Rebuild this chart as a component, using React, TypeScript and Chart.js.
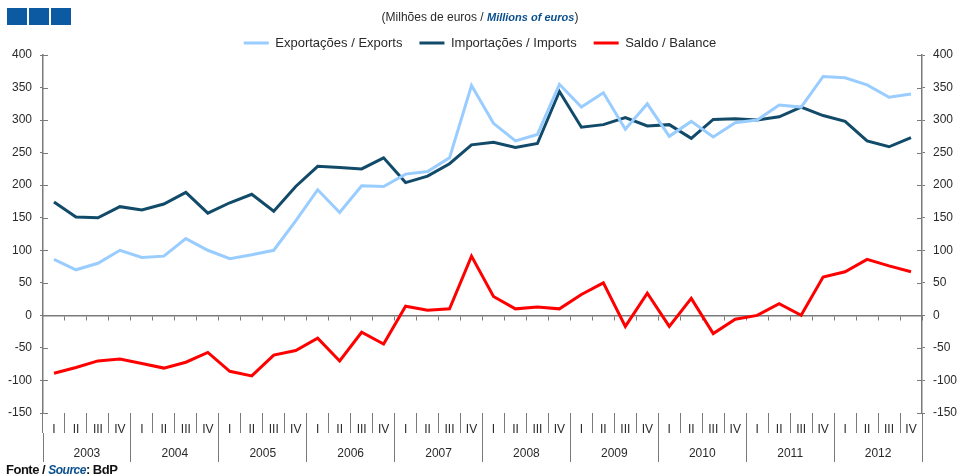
import React, { useEffect, useRef } from 'react';
import { Chart, registerables } from 'chart.js';

Chart.register(...registerables);

const years = ['2003', '2004', '2005', '2006', '2007', '2008', '2009', '2010', '2011', '2012'];
const quarterNames = ['I', 'II', 'III', 'IV'];
const quarterLabels = years.flatMap(() => quarterNames);

const exportsData = [86, 70, 80, 100, 89, 91, 118, 100, 87, 93, 100, 145, 193, 158, 199, 198, 217, 221, 242, 353, 295, 268, 278, 355, 320, 342, 286, 325, 275, 298, 274, 296, 300, 323, 320, 367, 365, 354, 335, 340];
const importsData = [174, 151, 150, 167, 162, 171, 189, 157, 173, 186, 160, 198, 229, 227, 225, 242, 204, 214, 233, 262, 266, 258, 264, 344, 289, 293, 304, 291, 293, 272, 301, 302, 300, 305, 320, 307, 298, 268, 259, 273];
const balanceData = [-89, -80, -70, -67, -74, -81, -72, -57, -86, -93, -61, -54, -35, -70, -26, -44, 14, 8, 10, 91, 29, 10, 13, 10, 32, 50, -17, 34, -17, 26, -28, -6, 0, 18, 0, 59, 67, 86, 76, 67];

const seriesLabels = ['Exportações / Exports', 'Importações / Imports', 'Saldo / Balance'];
const yMin = -150;
const yMax = 400;
const yStep = 50;

const FONT = "'Liberation Sans', Arial, sans-serif";
const AXIS = '#7a7a7a';
const TEXT = '#2a2a2a';

const innerTicks = {
  id: 'innerTicks',
  afterDraw(chart: any) {
    const ctx = chart.ctx;
    ['y', 'y2'].forEach((id) => {
      const s = chart.scales[id];
      if (!s) return;
      const left = id === 'y';
      const x = left ? s.right : s.left;
      const dir = left ? 1 : -1;
      ctx.save();
      ctx.strokeStyle = AXIS;
      ctx.lineWidth = 1;
      s.ticks.forEach((t: any) => {
        const py = Math.round(s.getPixelForValue(t.value)) + 0.5;
        ctx.beginPath();
        ctx.moveTo(x, py);
        ctx.lineTo(x + dir * 5, py);
        ctx.stroke();
      });
      ctx.restore();
    });
  },
};

export default function App() {
  const ref = useRef<HTMLCanvasElement>(null);

  useEffect(() => {
    document.body.style.margin = '0';
    const canvas = ref.current;
    if (!canvas) return;
    const tickFont = { family: FONT, size: 12 };
    const chart = new Chart(canvas, {
      type: 'line',
      data: {
        labels: quarterLabels,
        datasets: [
          { label: seriesLabels[0], data: exportsData, borderColor: '#99CCFF', backgroundColor: '#99CCFF', borderWidth: 3, pointRadius: 0, tension: 0, fill: false },
          { label: seriesLabels[1], data: importsData, borderColor: '#124B69', backgroundColor: '#124B69', borderWidth: 3, pointRadius: 0, tension: 0, fill: false },
          { label: seriesLabels[2], data: balanceData, borderColor: '#FF0000', backgroundColor: '#FF0000', borderWidth: 3, pointRadius: 0, tension: 0, fill: false },
        ],
      },
      options: {
        responsive: false,
        devicePixelRatio: 1,
        animation: false,
        layout: { padding: { top: 19.5, left: 0, right: 0, bottom: 0 } },
        plugins: {
          tooltip: { enabled: false },
          legend: {
            position: 'top',
            maxHeight: 35.5,
            labels: {
              boxWidth: 25,
              boxHeight: 3,
              padding: 17,
              color: TEXT,
              font: { family: FONT, size: 13 },
              generateLabels: (c: any) =>
                (Chart.defaults.plugins.legend.labels as any).generateLabels(c).map((l: any) => ({
                  ...l,
                  lineWidth: 0,
                  fillStyle: l.strokeStyle,
                })),
            },
          },
        },
        scales: {
          x: {
            type: 'category',
            position: 'bottom',
            weight: 0,
            offset: true,
            grid: { offset: true, drawOnChartArea: false, tickLength: 20, color: AXIS, lineWidth: 1 },
            border: { display: false },
            ticks: { autoSkip: false, maxRotation: 0, minRotation: 0, padding: -11, color: TEXT, font: tickFont },
            afterFit: (s: any) => { s.height = 20; },
          },
          xYear: {
            type: 'category',
            labels: years,
            position: 'bottom',
            weight: 1,
            offset: true,
            grid: { offset: true, drawOnChartArea: false, tickLength: 29, color: AXIS, lineWidth: 1 },
            border: { display: false },
            ticks: { autoSkip: false, maxRotation: 0, minRotation: 0, padding: -16, color: TEXT, font: tickFont },
            afterFit: (s: any) => { s.height = 41; },
          },
          x0: {
            type: 'category',
            labels: quarterLabels,
            position: { y: 0 },
            offset: true,
            grid: { offset: true, drawOnChartArea: false, tickLength: 4, color: AXIS, lineWidth: 1 },
            border: { display: true, color: AXIS, width: 1.5 },
            ticks: { display: false },
          },
          y: {
            type: 'linear',
            position: 'left',
            min: yMin,
            max: yMax,
            ticks: { stepSize: yStep, padding: 8, color: TEXT, font: tickFont },
            grid: { drawOnChartArea: false, tickLength: 3, color: AXIS },
            border: { color: AXIS, width: 1.5 },
            afterFit: (s: any) => { s.width = 43; },
          },
          y2: {
            type: 'linear',
            position: 'right',
            min: yMin,
            max: yMax,
            ticks: { stepSize: yStep, padding: 8, color: TEXT, font: tickFont },
            grid: { drawOnChartArea: false, tickLength: 3, color: AXIS },
            border: { color: AXIS, width: 1.5 },
            afterFit: (s: any) => { s.width = 38; },
          },
        },
      } as any,
      plugins: [innerTicks],
    });
    return () => chart.destroy();
  }, []);

  const sq: React.CSSProperties = { position: 'absolute', top: 8, width: 20, height: 17, background: '#0B5AA2' };

  return (
    <div style={{ position: 'absolute', left: 0, top: 0, width: 960, height: 474, overflow: 'hidden', background: '#fff', fontFamily: FONT }}>
      <canvas ref={ref} width={960} height={474} style={{ position: 'absolute', left: 0, top: 0, width: 960, height: 474 }} />
      <div style={{ ...sq, left: 7 }} />
      <div style={{ ...sq, left: 29 }} />
      <div style={{ ...sq, left: 51 }} />
      <div style={{ position: 'absolute', left: 0, top: 10, width: 960, textAlign: 'center', fontSize: 12, lineHeight: '15px', color: TEXT, whiteSpace: 'nowrap' }}>
        (Milhões de euros / <span style={{ fontWeight: 'bold', fontStyle: 'italic', color: '#0B4F8F', fontSize: 11 }}>Millions of euros</span>)
      </div>
      <div style={{ position: 'absolute', left: 6, top: 463, fontSize: 13, lineHeight: '14px', fontWeight: 'bold', color: '#111', whiteSpace: 'nowrap', letterSpacing: -0.5 }}>
        Fonte / <span style={{ fontStyle: 'italic', color: '#0B4F8F', fontSize: 12 }}>Source</span>: BdP
      </div>
    </div>
  );
}
